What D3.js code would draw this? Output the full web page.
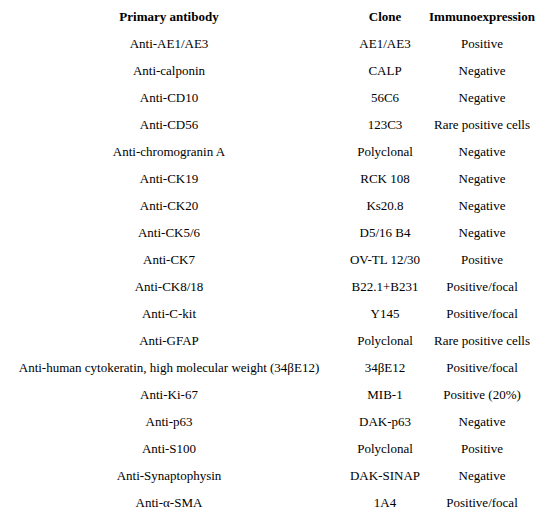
<!DOCTYPE html>
<html><head><meta charset="utf-8">
<script src="https://cdn.jsdelivr.net/npm/d3@7"></script>
<style>body{margin:0;background:#fff}</style></head>
<body><svg id="c" width="550" height="521"></svg>
<script>
const headers = ["Primary antibody","Clone","Immunoexpression"];
const antibodies = ["Anti-AE1/AE3","Anti-calponin","Anti-CD10","Anti-CD56","Anti-chromogranin A","Anti-CK19","Anti-CK20","Anti-CK5/6","Anti-CK7","Anti-CK8/18","Anti-C-kit","Anti-GFAP","Anti-human cytokeratin, high molecular weight (34βE12)","Anti-Ki-67","Anti-p63","Anti-S100","Anti-Synaptophysin","Anti-α-SMA"];
const clones = ["AE1/AE3","CALP","56C6","123C3","Polyclonal","RCK 108","Ks20.8","D5/16 B4","OV-TL 12/30","B22.1+B231","Y145","Polyclonal","34βE12","MIB-1","DAK-p63","Polyclonal","DAK-SINAP","1A4"];
const expression = ["Positive","Negative","Negative","Rare positive cells","Negative","Negative","Negative","Negative","Positive","Positive/focal","Positive/focal","Rare positive cells","Positive/focal","Positive (20%)","Negative","Positive","Negative","Positive/focal"];

const svg = d3.select("#c");
const colX = d3.scaleOrdinal().domain([0,1,2]).range([169,385,482]);
const y = d3.scaleLinear().domain([0,17]).range([45,504]);
const font = "'Liberation Serif','Times New Roman',serif";

svg.selectAll("text.h").data(headers).join("text")
  .attr("x",(d,i)=>colX(i)).attr("y",18).attr("text-anchor","middle")
  .attr("dominant-baseline","middle").attr("font-family",font)
  .attr("font-size",13).attr("font-weight","bold").text(d=>d);

[antibodies,clones,expression].forEach((col,ci)=>{
  svg.selectAll("text.c"+ci).data(col).join("text").attr("class","c"+ci)
    .attr("x",colX(ci)).attr("y",(d,i)=>y(i)).attr("text-anchor","middle")
    .attr("dominant-baseline","middle").attr("font-family",font)
    .attr("font-size",13).text(d=>d);
});
</script></body></html>
